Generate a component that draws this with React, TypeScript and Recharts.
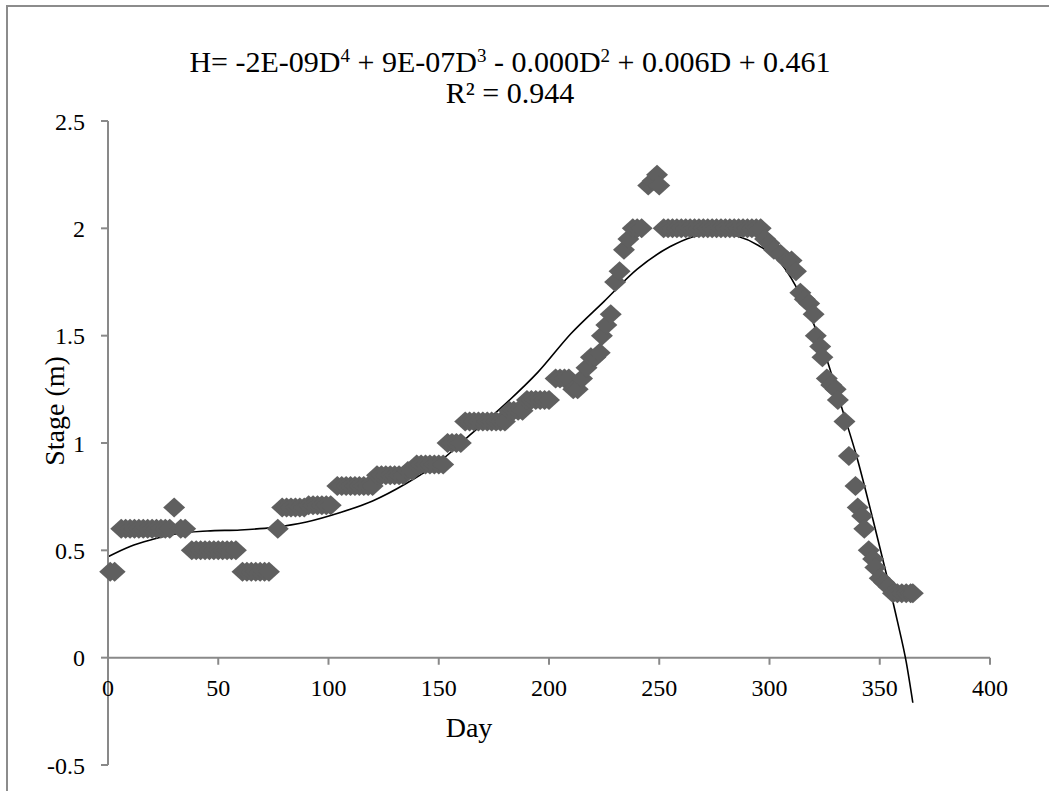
import React from "react";
import {
  ComposedChart,
  Scatter,
  Line,
  XAxis,
  YAxis,
  ReferenceLine,
  ReferenceDot,
} from "recharts";

// observed daily stage (m)
const obsDay = [
  1, 3, 6, 8, 10, 12, 14, 16, 18, 20, 22, 24, 26, 28, 30, 33, 35,
  38, 40, 42, 44, 46, 48, 50, 52, 54, 56, 58, 61, 63, 65, 67, 69, 71, 73,
  77, 79, 81, 83, 85, 87, 89, 91, 93, 95, 97, 99, 101,
  104, 106, 108, 110, 112, 114, 116, 118, 120, 122, 124, 126, 128, 130, 132, 134,
  136, 138, 140, 142, 144, 146, 148, 150, 152, 154, 156, 158, 160,
  162, 164, 166, 168, 170, 172, 174, 176, 178, 180, 182, 184, 186, 188,
  190, 192, 194, 196, 198, 200, 203, 205, 207, 209, 211, 213, 215, 217,
  219, 221, 223, 224, 226, 228, 230, 232, 234, 236, 238, 240, 242,
  245, 247, 249, 250, 252, 254, 256, 258, 260, 262, 264, 266, 268, 270,
  272, 274, 276, 278, 280, 282, 284, 286, 288, 290, 292, 294, 296,
  298, 300, 302, 305, 308, 310, 312, 314, 316, 318, 320, 321, 323, 324,
  326, 328, 330, 331, 334, 336, 339, 340, 342, 343, 345, 347, 348, 350,
  352, 354, 356, 358, 360, 362, 364, 365,
];
const obsStage = [
  0.4, 0.4, 0.6, 0.6, 0.6, 0.6, 0.6, 0.6, 0.6, 0.6, 0.6, 0.6, 0.6, 0.6, 0.7, 0.6, 0.6,
  0.5, 0.5, 0.5, 0.5, 0.5, 0.5, 0.5, 0.5, 0.5, 0.5, 0.5, 0.4, 0.4, 0.4, 0.4, 0.4, 0.4, 0.4,
  0.6, 0.7, 0.7, 0.7, 0.7, 0.7, 0.7, 0.71, 0.71, 0.71, 0.71, 0.71, 0.71,
  0.8, 0.8, 0.8, 0.8, 0.8, 0.8, 0.8, 0.8, 0.8, 0.85, 0.85, 0.85, 0.85, 0.85, 0.85, 0.85,
  0.87, 0.87, 0.9, 0.9, 0.9, 0.9, 0.9, 0.9, 0.9, 1.0, 1.0, 1.0, 1.0,
  1.1, 1.1, 1.1, 1.1, 1.1, 1.1, 1.1, 1.1, 1.1, 1.1, 1.15, 1.15, 1.15, 1.15,
  1.2, 1.2, 1.2, 1.2, 1.2, 1.2, 1.3, 1.3, 1.3, 1.3, 1.25, 1.25, 1.3, 1.35,
  1.4, 1.4, 1.42, 1.5, 1.55, 1.6, 1.75, 1.8, 1.9, 1.95, 2.0, 2.0, 2.0,
  2.2, 2.22, 2.25, 2.2, 2.0, 2.0, 2.0, 2.0, 2.0, 2.0, 2.0, 2.0, 2.0, 2.0,
  2.0, 2.0, 2.0, 2.0, 2.0, 2.0, 2.0, 2.0, 2.0, 2.0, 2.0, 2.0, 2.0,
  1.95, 1.93, 1.9, 1.88, 1.85, 1.85, 1.8, 1.7, 1.67, 1.65, 1.6, 1.5, 1.45, 1.4,
  1.3, 1.27, 1.25, 1.2, 1.1, 0.94, 0.8, 0.7, 0.66, 0.6, 0.5, 0.46, 0.42, 0.37,
  0.35, 0.33, 0.3, 0.3, 0.3, 0.3, 0.3, 0.3,
];

// polynomial trend line
const fitDay = [
  0, 10, 20, 30, 45, 60, 75, 90, 105, 120, 135, 150, 165, 180, 195, 210, 225,
  240, 255, 265, 275, 285, 295, 305, 315, 325, 332, 340, 347, 353, 358, 362, 365,
];
const fitStage = [
  0.47, 0.518, 0.55, 0.575, 0.59, 0.595, 0.607, 0.632, 0.675, 0.73, 0.81, 0.91,
  1.045, 1.18, 1.33, 1.51, 1.66, 1.81, 1.915, 1.96, 1.98, 1.965, 1.92, 1.84,
  1.67, 1.42, 1.19, 0.92, 0.64, 0.39, 0.17, -0.02, -0.21,
];

const xTicks = [0, 50, 100, 150, 200, 250, 300, 350, 400];
const yTicks = [-0.5, 0, 0.5, 1, 1.5, 2, 2.5];

const observed = obsDay.map((d, i) => ({ x: d, y: obsStage[i] }));
const trend = fitDay.map((d, i) => ({ x: d, y: fitStage[i] }));

const AXIS = "#898989";
const FONT = "'Liberation Serif', 'Times New Roman', serif";

function Diamond(props: any) {
  const { cx, cy } = props;
  if (cx == null || cy == null) return null;
  return (
    <polygon
      points={`${cx - 11},${cy} ${cx},${cy - 10} ${cx + 11},${cy} ${cx},${cy + 10}`}
      fill="#5f5f5f"
    />
  );
}

export default function App() {
  const sup = { baselineShift: "super", fontSize: 19 } as any;
  return (
    <div
      style={{
        position: "absolute",
        left: 0,
        top: 0,
        width: 1049,
        height: 791,
        overflow: "hidden",
        background: "#fff",
      }}
    >
      <div
        style={{
          position: "absolute",
          left: 6,
          top: 5,
          width: 1200,
          height: 1000,
          border: "2px solid #8c8c8c",
        }}
      />
      <div style={{ position: "absolute", left: 0, top: 0 }}>
        <ComposedChart
          width={1049}
          height={791}
          margin={{ top: 121, right: 59, bottom: 26, left: 0 }}
        >
          <XAxis type="number" dataKey="x" domain={[0, 400]} ticks={xTicks} hide />
          <YAxis
            type="number"
            dataKey="y"
            domain={[-0.5, 2.5]}
            ticks={yTicks}
            interval={0}
            width={108}
            axisLine={{ stroke: AXIS, strokeWidth: 2 }}
            tickLine={{ stroke: AXIS, strokeWidth: 2 }}
            tickSize={7}
            tickMargin={16}
            tick={{ fill: "#000", fontSize: 24, fontFamily: FONT }}
          />
          <ReferenceLine y={0} stroke={AXIS} strokeWidth={2} />
          {xTicks.map((t) => (
            <ReferenceLine
              key={"tk" + t}
              segment={[
                { x: t, y: 0 },
                { x: t, y: -0.033 },
              ]}
              stroke={AXIS}
              strokeWidth={2}
            />
          ))}
          {xTicks.map((t) => (
            <ReferenceDot
              key={"lb" + t}
              x={t}
              y={0}
              r={0}
              fill="none"
              stroke="none"
              label={{
                value: String(t),
                position: "bottom",
                offset: 21,
                fontSize: 24,
                fontFamily: FONT,
                fill: "#000",
              }}
            />
          ))}
          <Scatter
            data={observed}
            dataKey="y"
            shape={<Diamond />}
            isAnimationActive={false}
          />
          <Line
            data={trend}
            dataKey="y"
            type="monotone"
            stroke="#000"
            strokeWidth={1.6}
            dot={false}
            isAnimationActive={false}
          />
        </ComposedChart>
      </div>
      <svg
        width={1049}
        height={791}
        style={{ position: "absolute", left: 0, top: 0, pointerEvents: "none" }}
        fontFamily={FONT}
      >
        <text x={510} y={72} textAnchor="middle" fontSize={30} fill="#000">
          H= -2E-09D<tspan style={sup}>4</tspan> + 9E-07D
          <tspan style={sup}>3</tspan> - 0.000D<tspan style={sup}>2</tspan> +
          0.006D + 0.461
        </text>
        <text x={510} y={103} textAnchor="middle" fontSize={30} fill="#000">
          R² = 0.944
        </text>
        <text x={469} y={737} textAnchor="middle" fontSize={28} fill="#000">
          Day
        </text>
        <text
          x={64}
          y={411}
          textAnchor="middle"
          fontSize={28}
          fill="#000"
          transform="rotate(-90 64 411)"
        >
          Stage (m)
        </text>
      </svg>
    </div>
  );
}
